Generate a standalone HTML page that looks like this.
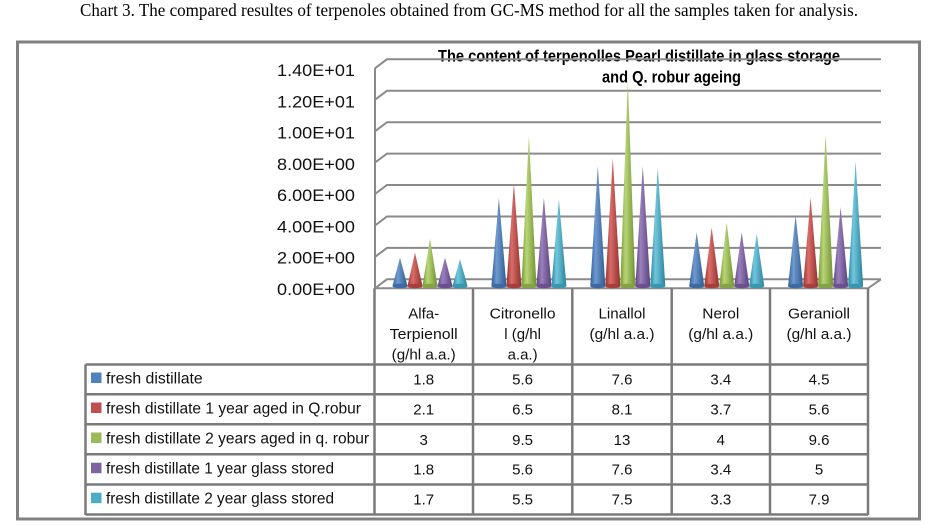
<!DOCTYPE html>
<html><head><meta charset="utf-8"><style>
html,body{margin:0;padding:0;background:#fff;}
svg{display:block;}
</style></head><body>
<svg width="931" height="525" viewBox="0 0 931 525" xmlns="http://www.w3.org/2000/svg">
<defs>
<linearGradient id="gb" x1="0" x2="1" y1="0" y2="0"><stop offset="0" stop-color="#2f5f99"/><stop offset="0.35" stop-color="#6f9ad0"/><stop offset="1" stop-color="#2f5a8f"/></linearGradient>
<linearGradient id="gr" x1="0" x2="1" y1="0" y2="0"><stop offset="0" stop-color="#9a2f2c"/><stop offset="0.35" stop-color="#d96d6a"/><stop offset="1" stop-color="#912f2c"/></linearGradient>
<linearGradient id="gg" x1="0" x2="1" y1="0" y2="0"><stop offset="0" stop-color="#75952f"/><stop offset="0.35" stop-color="#b8d677"/><stop offset="1" stop-color="#718f32"/></linearGradient>
<linearGradient id="gp" x1="0" x2="1" y1="0" y2="0"><stop offset="0" stop-color="#5c437e"/><stop offset="0.35" stop-color="#9a80bd"/><stop offset="1" stop-color="#58407a"/></linearGradient>
<linearGradient id="gc" x1="0" x2="1" y1="0" y2="0"><stop offset="0" stop-color="#2a869f"/><stop offset="0.35" stop-color="#72c7dd"/><stop offset="1" stop-color="#28829b"/></linearGradient>
</defs>

<!-- caption -->
<text x="80" y="16" font-family="Liberation Serif, serif" font-size="18" fill="#000" textLength="778" lengthAdjust="spacingAndGlyphs">Chart 3.  The compared resultes of terpenoles obtained from GC-MS method for all the samples taken for analysis.</text>

<!-- outer border -->
<rect x="17.5" y="42" width="902" height="477" fill="none" stroke="#808080" stroke-width="3"/>

<!-- title -->
<g font-family="Liberation Sans, sans-serif" font-weight="bold" font-size="16.5" fill="#000">
<text x="438" y="61.5" textLength="402" lengthAdjust="spacingAndGlyphs">The content of terpenolles Pearl distillate in glass storage</text>
<text x="602" y="82.5" textLength="139" lengthAdjust="spacingAndGlyphs">and Q. robur ageing</text>
</g>

<!-- gridlines -->
<g stroke="#8a8a8a" stroke-width="2" fill="none">
<path d="M375 68.3 L387 59.3 H881"/>
<path d="M375 99.7 L387 90.7 H881"/>
<path d="M375 131.2 L387 122.2 H881"/>
<path d="M375 162.6 L387 153.6 H881"/>
<path d="M375 194 L387 185 H881"/>
<path d="M375 225.5 L387 216.5 H881"/>
<path d="M375 256.9 L387 247.9 H881"/>
<path d="M375 288.3 L387 279.3 H881"/>
<path d="M375 68.3 V288.3"/>
<path d="M375 288.3 H868 L881 279.3"/>
</g>

<!-- y labels -->
<g font-family="Liberation Sans, sans-serif" font-size="16.5" fill="#111" text-anchor="end">
<text x="355" y="76" textLength="78" lengthAdjust="spacingAndGlyphs">1.40E+01</text>
<text x="355" y="107.3" textLength="78" lengthAdjust="spacingAndGlyphs">1.20E+01</text>
<text x="355" y="138.5" textLength="78" lengthAdjust="spacingAndGlyphs">1.00E+01</text>
<text x="355" y="169.8" textLength="78" lengthAdjust="spacingAndGlyphs">8.00E+00</text>
<text x="355" y="201" textLength="78" lengthAdjust="spacingAndGlyphs">6.00E+00</text>
<text x="355" y="232.3" textLength="78" lengthAdjust="spacingAndGlyphs">4.00E+00</text>
<text x="355" y="263.5" textLength="78" lengthAdjust="spacingAndGlyphs">2.00E+00</text>
<text x="355" y="294.8" textLength="78" lengthAdjust="spacingAndGlyphs">0.00E+00</text>
</g>

<!-- cones: tip = 286 - 15.8*v -->
<g>
<path d="M392.5 286 L400 257.6 L407.5 286 Z" fill="url(#gb)"/><ellipse cx="400" cy="286" rx="7.5" ry="2.2" fill="#3d6aa3"/>
<path d="M407.5 286 L415 252.8 L422.5 286 Z" fill="url(#gr)"/><ellipse cx="415" cy="286" rx="7.5" ry="2.2" fill="#a83e3b"/>
<path d="M422.5 286 L430 238.6 L437.5 286 Z" fill="url(#gg)"/><ellipse cx="430" cy="286" rx="7.5" ry="2.2" fill="#86a343"/>
<path d="M437.5 286 L445 257.6 L452.5 286 Z" fill="url(#gp)"/><ellipse cx="445" cy="286" rx="7.5" ry="2.2" fill="#6b5090"/>
<path d="M452.5 286 L460 259.1 L467.5 286 Z" fill="url(#gc)"/><ellipse cx="460" cy="286" rx="7.5" ry="2.2" fill="#3797b0"/>
<path d="M491.4 286 L498.9 197.5 L506.4 286 Z" fill="url(#gb)"/><ellipse cx="498.9" cy="286" rx="7.5" ry="2.2" fill="#3d6aa3"/>
<path d="M506.4 286 L513.9 183.3 L521.4 286 Z" fill="url(#gr)"/><ellipse cx="513.9" cy="286" rx="7.5" ry="2.2" fill="#a83e3b"/>
<path d="M521.4 286 L528.9 135.9 L536.4 286 Z" fill="url(#gg)"/><ellipse cx="528.9" cy="286" rx="7.5" ry="2.2" fill="#86a343"/>
<path d="M536.4 286 L543.9 197.5 L551.4 286 Z" fill="url(#gp)"/><ellipse cx="543.9" cy="286" rx="7.5" ry="2.2" fill="#6b5090"/>
<path d="M551.4 286 L558.9 199.1 L566.4 286 Z" fill="url(#gc)"/><ellipse cx="558.9" cy="286" rx="7.5" ry="2.2" fill="#3797b0"/>
<path d="M590.3 286 L597.8 165.9 L605.3 286 Z" fill="url(#gb)"/><ellipse cx="597.8" cy="286" rx="7.5" ry="2.2" fill="#3d6aa3"/>
<path d="M605.3 286 L612.8 158 L620.3 286 Z" fill="url(#gr)"/><ellipse cx="612.8" cy="286" rx="7.5" ry="2.2" fill="#a83e3b"/>
<path d="M620.3 286 L627.8 80.6 L635.3 286 Z" fill="url(#gg)"/><ellipse cx="627.8" cy="286" rx="7.5" ry="2.2" fill="#86a343"/>
<path d="M635.3 286 L642.8 165.9 L650.3 286 Z" fill="url(#gp)"/><ellipse cx="642.8" cy="286" rx="7.5" ry="2.2" fill="#6b5090"/>
<path d="M650.3 286 L657.8 167.5 L665.3 286 Z" fill="url(#gc)"/><ellipse cx="657.8" cy="286" rx="7.5" ry="2.2" fill="#3797b0"/>
<path d="M689.2 286 L696.7 232.3 L704.2 286 Z" fill="url(#gb)"/><ellipse cx="696.7" cy="286" rx="7.5" ry="2.2" fill="#3d6aa3"/>
<path d="M704.2 286 L711.7 227.5 L719.2 286 Z" fill="url(#gr)"/><ellipse cx="711.7" cy="286" rx="7.5" ry="2.2" fill="#a83e3b"/>
<path d="M719.2 286 L726.7 222.8 L734.2 286 Z" fill="url(#gg)"/><ellipse cx="726.7" cy="286" rx="7.5" ry="2.2" fill="#86a343"/>
<path d="M734.2 286 L741.7 232.3 L749.2 286 Z" fill="url(#gp)"/><ellipse cx="741.7" cy="286" rx="7.5" ry="2.2" fill="#6b5090"/>
<path d="M749.2 286 L756.7 233.9 L764.2 286 Z" fill="url(#gc)"/><ellipse cx="756.7" cy="286" rx="7.5" ry="2.2" fill="#3797b0"/>
<path d="M788.1 286 L795.6 214.9 L803.1 286 Z" fill="url(#gb)"/><ellipse cx="795.6" cy="286" rx="7.5" ry="2.2" fill="#3d6aa3"/>
<path d="M803.1 286 L810.6 197.5 L818.1 286 Z" fill="url(#gr)"/><ellipse cx="810.6" cy="286" rx="7.5" ry="2.2" fill="#a83e3b"/>
<path d="M818.1 286 L825.6 134.3 L833.1 286 Z" fill="url(#gg)"/><ellipse cx="825.6" cy="286" rx="7.5" ry="2.2" fill="#86a343"/>
<path d="M833.1 286 L840.6 207 L848.1 286 Z" fill="url(#gp)"/><ellipse cx="840.6" cy="286" rx="7.5" ry="2.2" fill="#6b5090"/>
<path d="M848.1 286 L855.6 161.2 L863.1 286 Z" fill="url(#gc)"/><ellipse cx="855.6" cy="286" rx="7.5" ry="2.2" fill="#3797b0"/>
</g>

<!-- table lines -->
<g stroke="#7a7a7a" stroke-width="2.5" fill="none">
<path d="M374.5 288.3 V515"/>
<path d="M473 288.3 V515"/>
<path d="M572.3 288.3 V515"/>
<path d="M671.7 288.3 V515"/>
<path d="M770 288.3 V515"/>
<path d="M868 288.3 V515"/>
<path d="M85.5 364.5 V515"/>
<path d="M85.5 364.5 H868"/>
<path d="M85.5 394.3 H868"/>
<path d="M85.5 424.2 H868"/>
<path d="M85.5 454.3 H868"/>
<path d="M85.5 484.5 H868"/>
<path d="M85.5 514.5 H868"/>
</g>

<!-- header text -->
<g font-family="Liberation Sans, sans-serif" font-size="15" fill="#111" text-anchor="middle">
<text x="423.7" y="318.5">Alfa-</text>
<text x="423.7" y="339" textLength="68" lengthAdjust="spacingAndGlyphs">Terpienoll</text>
<text x="423.7" y="359.5" textLength="64" lengthAdjust="spacingAndGlyphs">(g/hl a.a.)</text>
<text x="522.6" y="318.5" textLength="66" lengthAdjust="spacingAndGlyphs">Citronello</text>
<text x="522.6" y="339">l (g/hl</text>
<text x="522.6" y="359.5">a.a.)</text>
<text x="622" y="318.5" textLength="47" lengthAdjust="spacingAndGlyphs">Linallol</text>
<text x="622" y="339" textLength="65" lengthAdjust="spacingAndGlyphs">(g/hl a.a.)</text>
<text x="720.8" y="318.5" textLength="37" lengthAdjust="spacingAndGlyphs">Nerol</text>
<text x="720.8" y="339" textLength="65" lengthAdjust="spacingAndGlyphs">(g/hl a.a.)</text>
<text x="819" y="318.5" textLength="62" lengthAdjust="spacingAndGlyphs">Geranioll</text>
<text x="819" y="339" textLength="65" lengthAdjust="spacingAndGlyphs">(g/hl a.a.)</text>
</g>

<!-- legend squares -->
<rect x="91" y="372.5" width="10.5" height="10.5" fill="#4f81bd"/>
<rect x="91" y="402.5" width="10.5" height="10.5" fill="#c0504d"/>
<rect x="91" y="432.5" width="10.5" height="10.5" fill="#9bbb59"/>
<rect x="91" y="462.7" width="10.5" height="10.5" fill="#8064a2"/>
<rect x="91" y="492.7" width="10.5" height="10.5" fill="#4bacc6"/>

<!-- row labels -->
<g font-family="Liberation Sans, sans-serif" font-size="15.5" fill="#111">
<text x="106" y="383.5" textLength="96.7" lengthAdjust="spacingAndGlyphs">fresh distillate</text>
<text x="106" y="413.5" textLength="255" lengthAdjust="spacingAndGlyphs">fresh distillate 1 year aged in Q.robur</text>
<text x="106" y="443.5" textLength="263" lengthAdjust="spacingAndGlyphs">fresh distillate 2 years aged in q. robur</text>
<text x="106" y="473.7" textLength="228" lengthAdjust="spacingAndGlyphs">fresh distillate 1 year glass stored</text>
<text x="106" y="503.7" textLength="228" lengthAdjust="spacingAndGlyphs">fresh distillate 2 year glass stored</text>
</g>

<!-- values -->
<g font-family="Liberation Sans, sans-serif" font-size="15" fill="#111" text-anchor="middle">
<text x="423.7" y="384.5">1.8</text><text x="522.6" y="384.5">5.6</text><text x="622" y="384.5">7.6</text><text x="720.8" y="384.5">3.4</text><text x="819" y="384.5">4.5</text>
<text x="423.7" y="414.5">2.1</text><text x="522.6" y="414.5">6.5</text><text x="622" y="414.5">8.1</text><text x="720.8" y="414.5">3.7</text><text x="819" y="414.5">5.6</text>
<text x="423.7" y="444.8">3</text><text x="522.6" y="444.8">9.5</text><text x="622" y="444.8">13</text><text x="720.8" y="444.8">4</text><text x="819" y="444.8">9.6</text>
<text x="423.7" y="474.7">1.8</text><text x="522.6" y="474.7">5.6</text><text x="622" y="474.7">7.6</text><text x="720.8" y="474.7">3.4</text><text x="819" y="474.7">5</text>
<text x="423.7" y="504.7">1.7</text><text x="522.6" y="504.7">5.5</text><text x="622" y="504.7">7.5</text><text x="720.8" y="504.7">3.3</text><text x="819" y="504.7">7.9</text>
</g>
</svg>
</body></html>
